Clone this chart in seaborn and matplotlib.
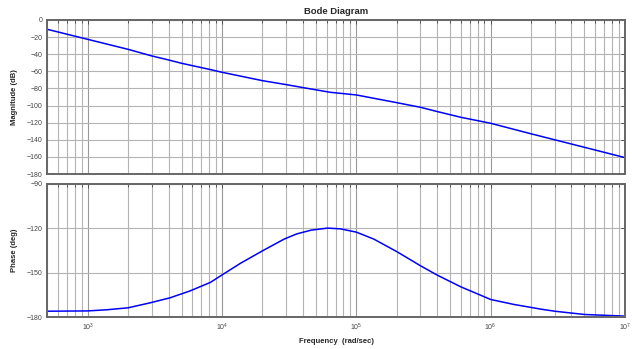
import numpy as np
import pandas as pd
import matplotlib
matplotlib.use("Agg")
import matplotlib.pyplot as plt
from matplotlib.ticker import LogLocator, FixedLocator, NullFormatter, LogFormatterMathtext
import seaborn as sns

# Frequency response samples (rad/sec, dB, deg)
mag_freq = [500, 1e3, 2e3, 3e3, 4e3, 5e3, 8e3, 1e4, 2e4, 3e4, 4e4, 6.4e4,
            1e5, 2e5, 3e5, 4e5, 6e5, 1e6, 2e6, 3e6, 5e6, 1e7]
mag_db = [-10.9, -22.6, -34.3, -42.0, -46.7, -50.6, -57.6, -61.1, -70.9, -75.5,
          -79.0, -84.5, -87.6, -96.6, -102.0, -107.0, -113.7, -120.7, -133.0,
          -140.0, -148.8, -160.8]

phase_freq = [500, 1e3, 1.4e3, 2e3, 2.9e3, 4.1e3, 5.8e3, 8.2e3, 1e4, 1.37e4,
              2e4, 2.9e4, 3.6e4, 4.6e4, 6.1e4, 7.6e4, 1e5, 1.35e5, 2e5, 3e5,
              4e5, 6e5, 1e6, 1.5e6, 2.4e6, 3e6, 5e6, 1e7]
phase_deg = [-175.9, -175.7, -174.9, -173.6, -170.3, -166.9, -162.2, -156.5,
             -151.5, -143.7, -135.3, -127.4, -123.9, -121.4, -120.0, -120.5,
             -122.7, -127.4, -135.8, -145.3, -151.6, -159.5, -168.0, -171.4,
             -174.6, -175.9, -178.1, -179.2]

mag_ticks = [0, -20, -40, -60, -80, -100, -120, -140, -160, -180]
phase_ticks = [-180, -150, -120, -90]

sns.set_style("white")
plt.rcParams["font.family"] = ["Liberation Sans", "DejaVu Sans"]

fig = plt.figure(figsize=(6.32, 3.49), dpi=100)
ax_mag = fig.add_axes([0.0748, 0.5014, 0.914, 0.4413])
ax_ph = fig.add_axes([0.0748, 0.0908, 0.914, 0.3834])

mag_df = pd.DataFrame({"freq": mag_freq, "mag": mag_db})
ph_df = pd.DataFrame({"freq": phase_freq, "phase": phase_deg})

sns.lineplot(data=mag_df, x="freq", y="mag", ax=ax_mag, color="#0000ff",
             lw=1.1, sort=False)
sns.lineplot(data=ph_df, x="freq", y="phase", ax=ax_ph, color="#0000ff",
             lw=1.1, sort=False)

tick_col = "#444444"
grid_col = "#b4b4b4"
for ax in (ax_mag, ax_ph):
    ax.set_xscale("log")
    ax.set_xlim(500, 1e7)
    ax.xaxis.set_major_locator(LogLocator(base=10, numticks=20))
    ax.xaxis.set_minor_locator(LogLocator(base=10, subs=np.arange(2, 10), numticks=20))
    ax.xaxis.set_minor_formatter(NullFormatter())
    ax.grid(True, which="major", axis="x", color="#999999", lw=0.8)
    ax.grid(True, which="minor", axis="x", color=grid_col, lw=0.8)
    ax.grid(True, which="major", axis="y", color=grid_col, lw=0.8)
    ax.tick_params(which="both", direction="in", top=True, right=True,
                   labelsize=5, colors=tick_col, length=3, width=0.6)
    ax.tick_params(which="minor", length=2)
    for s in ax.spines.values():
        s.set_visible(True)
        s.set_color("#666666")
        s.set_linewidth(1.4)
    ax.set_axisbelow(True)

ax_mag.set_ylim(-180, 0)
ax_mag.yaxis.set_major_locator(FixedLocator(mag_ticks))
ax_mag.tick_params(axis="x", which="both", labelbottom=False)
ax_mag.set_xlabel("")
ax_mag.set_ylabel("Magnitude (dB)", fontsize=5.5, fontweight="bold", labelpad=6)
ax_mag.set_title("Bode Diagram", fontsize=6.8, fontweight="bold", pad=4)

ax_ph.set_ylim(-180, -90)
ax_ph.yaxis.set_major_locator(FixedLocator(phase_ticks))
ax_ph.xaxis.set_major_formatter(LogFormatterMathtext())
ax_ph.set_ylabel("Phase (deg)", fontsize=5.5, fontweight="bold", labelpad=6)
ax_ph.set_xlabel("Frequency  (rad/sec)", fontsize=5.5, fontweight="bold", labelpad=3)

fig.savefig("out.png", dpi=100)
